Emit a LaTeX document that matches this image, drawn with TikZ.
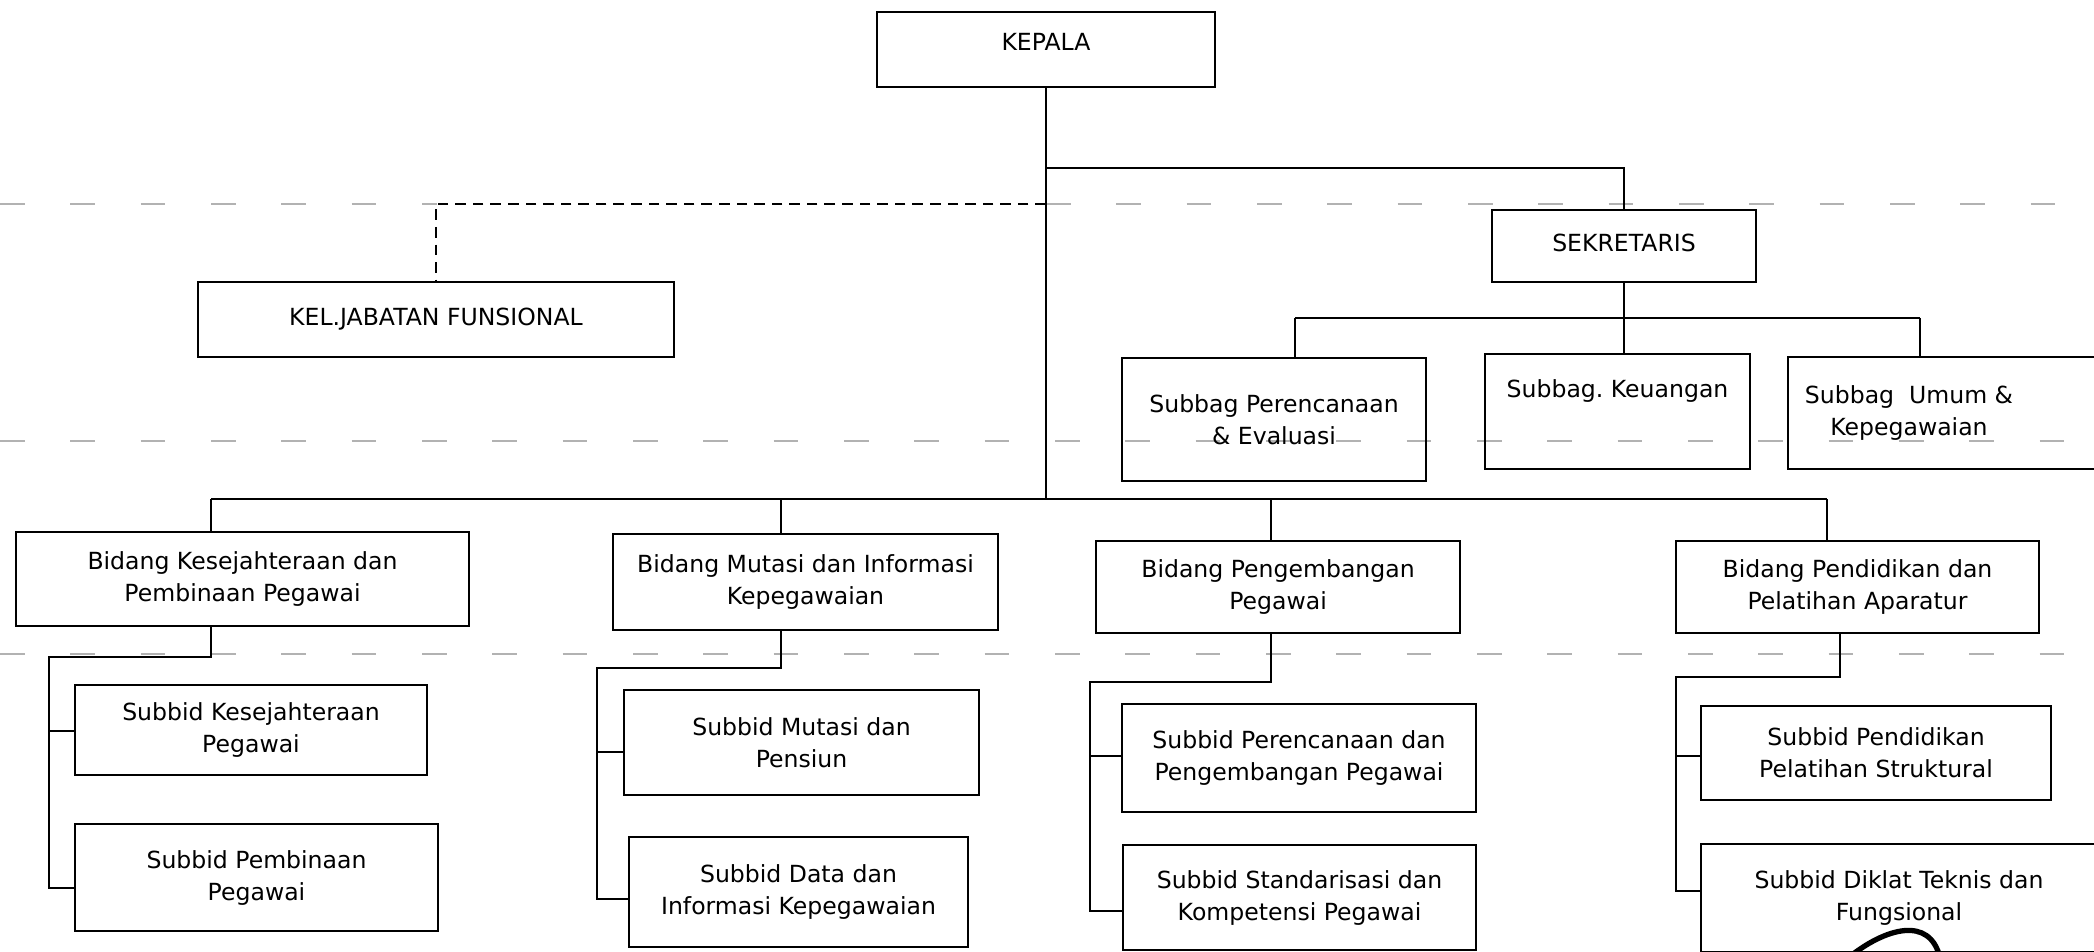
\documentclass[tikz,border=0pt]{standalone}
\usepackage{fontspec}
\setmainfont{DejaVu Sans}
\begin{document}
\begin{tikzpicture}[x=0.01cm,y=-0.01cm,
  font=\fontsize{6.7}{9.1}\selectfont,
  box/.style={draw, line width=0.6pt, align=center, inner sep=0pt},
  conn/.style={line width=0.6pt},
  dconn/.style={line width=0.6pt, dash pattern=on 3pt off 2pt},
  guide/.style={black!30, line width=0.35pt, dash pattern=on 7pt off 13pt}]
\useasboundingbox (0,0) rectangle (2094,952);

% faint guide lines
\draw[guide] (0,204) -- (437,204);
\draw[guide] (1046,204) -- (2094,204);
\draw[guide] (0,441) -- (2094,441);
\draw[guide] (0,654) -- (2094,654);

% boxes
\node[box, minimum width=3.38cm, minimum height=0.75cm, text depth=0.16cm] (kep) at (1046,49.5) {KEPALA};
\node[box, minimum width=4.76cm, minimum height=0.75cm, text depth=0.06cm] (kel) at (436,319.5) {KEL.JABATAN FUNSIONAL};
\node[box, minimum width=2.64cm, minimum height=0.72cm, text depth=0.06cm] (sek) at (1624,246) {SEKRETARIS};
\node[box, minimum width=3.04cm, minimum height=1.23cm] (sp) at (1274,419.5) {Subbag Perencanaan\\\& Evaluasi};
\node[box, minimum width=2.65cm, minimum height=1.15cm, text depth=0.45cm] (sk) at (1617.5,411.5) {Subbag.\ Keuangan};
\node[box, minimum width=3.12cm, minimum height=1.12cm] (su) at (1944,413) {Subbag\ \ Umum \&\hspace*{0.7cm}\\Kepegawaian\hspace*{0.7cm}};

\node[box, minimum width=4.53cm, minimum height=0.94cm] (b1) at (242.5,579) {Bidang Kesejahteraan dan\\Pembinaan Pegawai};
\node[box, minimum width=3.85cm, minimum height=0.96cm] (b2) at (805.5,582) {Bidang Mutasi dan Informasi\\Kepegawaian};
\node[box, minimum width=3.64cm, minimum height=0.92cm] (b3) at (1278,587) {Bidang Pengembangan\\Pegawai};
\node[box, minimum width=3.63cm, minimum height=0.92cm] (b4) at (1857.5,587) {Bidang Pendidikan dan\\Pelatihan Aparatur};

\node[box, minimum width=3.52cm, minimum height=0.90cm] (k1) at (251,730) {Subbid Kesejahteraan\\Pegawai};
\node[box, minimum width=3.63cm, minimum height=1.07cm] (p1) at (256.5,877.5) {Subbid Pembinaan\\Pegawai};
\node[box, minimum width=3.55cm, minimum height=1.05cm] (m2) at (801.5,742.5) {Subbid Mutasi dan\\Pensiun};
\node[box, minimum width=3.39cm, minimum height=1.10cm] (d2) at (798.5,892) {Subbid Data dan\\Informasi Kepegawaian};
\node[box, minimum width=3.54cm, minimum height=1.08cm] (r3) at (1299,758) {Subbid Perencanaan dan\\Pengembangan Pegawai};
\node[box, minimum width=3.53cm, minimum height=1.05cm] (s3) at (1299.5,897.5) {Subbid Standarisasi dan\\Kompetensi Pegawai};
\node[box, minimum width=3.50cm, minimum height=0.94cm] (ps4) at (1876,753) {Subbid Pendidikan\\Pelatihan Struktural};
\node[box, minimum width=3.96cm, minimum height=1.08cm] (dt4) at (1899,898) {Subbid Diklat Teknis dan\\Fungsional};

% top connectors
\coordinate (ks) at (1046,168);
\coordinate (kd) at (1046,204);
\coordinate (bus) at (1046,499);
\draw[conn] (kep.south) -- (bus);
\draw[conn] (ks) -| (sek.north);
\draw[dconn] (kd) -| (kel.north);

% sekretaris branch
\coordinate (sbus) at (1624,318);
\coordinate (sl) at (1295,318);
\coordinate (sr) at (1920,318);
\draw[conn] (sek.south) -- (sbus);
\draw[conn] (sl) -- (sr);
\draw[conn] (sl) -- (sl |- sp.north);
\draw[conn] (sbus) -- (sbus |- sk.north);
\draw[conn] (sr) -- (sr |- su.north);

% bidang bus
\coordinate (bl) at (211,499);
\coordinate (bm2) at (781,499);
\coordinate (bm3) at (1271,499);
\coordinate (br) at (1827,499);
\draw[conn] (bl) -- (br);
\draw[conn] (bl) -- (bl |- b1.north);
\draw[conn] (bm2) -- (bm2 |- b2.north);
\draw[conn] (bm3) -- (bm3 |- b3.north);
\draw[conn] (br) -- (br |- b4.north);

% column 1
\coordinate (c1) at (211,657);
\coordinate (c1l) at (49,657);
\coordinate (c1a) at (49,731);
\coordinate (c1b) at (49,888);
\draw[conn] (c1 |- b1.south) -- (c1) -- (c1l) -- (c1b) -- (c1b -| p1.west);
\draw[conn] (c1a) -- (c1a -| k1.west);

% column 2
\coordinate (c2) at (781,668);
\coordinate (c2l) at (597,668);
\coordinate (c2a) at (597,752);
\coordinate (c2b) at (597,899);
\draw[conn] (c2 |- b2.south) -- (c2) -- (c2l) -- (c2b) -- (c2b -| d2.west);
\draw[conn] (c2a) -- (c2a -| m2.west);

% column 3
\coordinate (c3) at (1271,682);
\coordinate (c3l) at (1090,682);
\coordinate (c3a) at (1090,756);
\coordinate (c3b) at (1090,911);
\draw[conn] (c3 |- b3.south) -- (c3) -- (c3l) -- (c3b) -- (c3b -| s3.west);
\draw[conn] (c3a) -- (c3a -| r3.west);

% column 4
\coordinate (c4) at (1840,677);
\coordinate (c4l) at (1676,677);
\coordinate (c4a) at (1676,756);
\coordinate (c4b) at (1676,891);
\draw[conn] (c4 |- b4.south) -- (c4) -- (c4l) -- (c4b) -- (c4b -| dt4.west);
\draw[conn] (c4a) -- (c4a -| ps4.west);

% signature stroke
\draw[line width=1.5pt] (1848,958) .. controls (1885,928) and (1930,915) .. (1940,958);
\end{tikzpicture}
\end{document}
